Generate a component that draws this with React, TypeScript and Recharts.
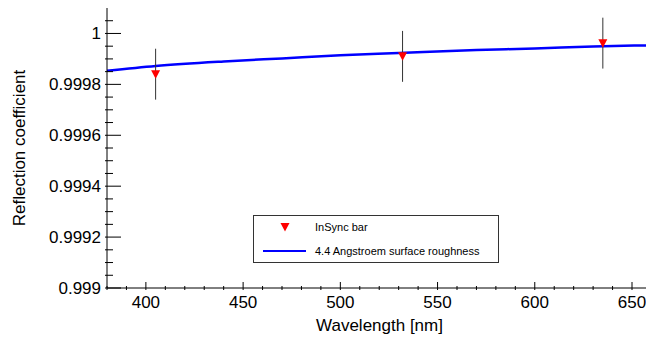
import { ComposedChart, Line, Scatter, ErrorBar, XAxis, YAxis } from 'recharts';

// measured points (laser wavelengths)
const pointWl = [405, 532, 635];
const pointR = [0.99984, 0.99991, 0.999962];
const pointErr = [0.0001, 0.0001, 0.0001];

// model curve: 4.4 Angstroem surface roughness
const curveWl = [380, 405, 440, 470, 500, 530, 570, 600, 630, 658];
const curveR = [0.999853, 0.999872, 0.99989, 0.999902, 0.999914, 0.999923, 0.999935, 0.999941, 0.999949, 0.999953];

const xMajor = [400, 450, 500, 550, 600, 650];
const xMinor = [380, 390, 410, 420, 430, 440, 460, 470, 480, 490, 510, 520, 530, 540, 560, 570, 580, 590, 610, 620, 630, 640];
const yMajor = [0.999, 0.9992, 0.9994, 0.9996, 0.9998, 1];
const yMajorLabels = ['0.999', '0.9992', '0.9994', '0.9996', '0.9998', '1'];
const yMinor = [0.99905, 0.9991, 0.99915, 0.99925, 0.9993, 0.99935, 0.99945, 0.9995, 0.99955, 0.99965, 0.9997, 0.99975, 0.99985, 0.9999, 0.99995, 1.00005];

const FONT = '"Liberation Sans", Arial, Helvetica, sans-serif';

const points = pointWl.map((wl, i) => ({ wl, r: pointR[i], err: pointErr[i] }));
const curve = curveWl.map((wl, i) => ({ wl, r: curveR[i] }));

const isMajor = (list: number[], v: number) => list.findIndex(m => Math.abs(m - v) < 1e-9);

const XTick = ({ x, y, payload }: any) => {
  const idx = isMajor(xMajor, payload.value);
  return (
    <g>
      <line x1={x} x2={x} y1={y} y2={y - (idx >= 0 ? 8 : 4)} stroke="#000" />
      {idx >= 0 && (
        <text x={x} y={y + 18} textAnchor="middle" fontSize={17} fontFamily={FONT} fill="#000">
          {xMajor[idx]}
        </text>
      )}
    </g>
  );
};

const YTick = ({ x, y, payload }: any) => {
  const idx = isMajor(yMajor, payload.value);
  return (
    <g>
      <line x1={x} x2={x + (idx >= 0 ? 16 : 8)} y1={y} y2={y} stroke="#000" />
      {idx >= 0 && (
        <text x={x - 4} y={y} dy="0.35em" textAnchor="end" fontSize={17} fontFamily={FONT} fill="#000">
          {yMajorLabels[idx]}
        </text>
      )}
    </g>
  );
};

const TriangleDown = ({ cx, cy }: any) => (
  <polygon points={`${cx - 4.5},${cy - 4} ${cx + 4.5},${cy - 4} ${cx},${cy + 4.5}`} fill="#ff0000" />
);

export default function App() {
  return (
    <div style={{ position: 'absolute', left: 0, top: 0, width: 646, height: 342, background: '#fff' }}>
      <ComposedChart width={646} height={342} margin={{ top: 8, right: 0, bottom: 0, left: 0 }}>
        <XAxis
          dataKey="wl"
          type="number"
          domain={[380, 657.2]}
          allowDataOverflow
          ticks={[...xMajor, ...xMinor].sort((a, b) => a - b)}
          interval={0}
          tickSize={0}
          tickLine={false}
          tick={<XTick />}
          height={54}
          axisLine={{ stroke: '#000' }}
          label={({ viewBox }: any) => (
            <text
              x={viewBox.x + viewBox.width / 2 + 3}
              y={viewBox.y + 43}
              textAnchor="middle"
              fontSize={17}
              fontFamily={FONT}
              fill="#000"
            >
              Wavelength [nm]
            </text>
          )}
        />
        <XAxis xAxisId="top" orientation="top" type="number" domain={[380, 657.2]} tick={false} tickLine={false} height={0} axisLine={{ stroke: '#444' }} />
        <YAxis
          dataKey="r"
          type="number"
          domain={[0.999, 1.0001]}
          allowDataOverflow
          ticks={[...yMajor, ...yMinor].sort((a, b) => a - b)}
          interval={0}
          tickSize={0}
          tickLine={false}
          tick={<YTick />}
          width={107}
          axisLine={{ stroke: '#000' }}
          label={({ viewBox }: any) => {
            const cy = viewBox.y + viewBox.height / 2;
            return (
              <text
                x={25}
                y={cy}
                transform={`rotate(-90, 25, ${cy})`}
                textAnchor="middle"
                fontSize={17}
                fontFamily={FONT}
                fill="#000"
              >
                Reflection coefficient
              </text>
            );
          }}
        />
        <Line
          data={curve}
          dataKey="r"
          type="monotone"
          stroke="#0000ff"
          strokeWidth={2.5}
          dot={false}
          activeDot={false}
          isAnimationActive={false}
        />
        <Scatter data={points} dataKey="r" shape={<TriangleDown />} isAnimationActive={false}>
          <ErrorBar dataKey="err" direction="y" width={0} stroke="#333" strokeWidth={1} />
        </Scatter>
      </ComposedChart>
      <div
        style={{
          position: 'absolute',
          left: 253,
          top: 215,
          width: 246,
          height: 48,
          border: '1px solid #333',
          boxSizing: 'border-box',
          background: '#fff',
          fontFamily: FONT,
          fontSize: 11,
        }}
      >
        <svg width={244} height={46} style={{ position: 'absolute', left: 0, top: 0 }}>
          <polygon points="26.5,7 35.5,7 31,15.5" fill="#ff0000" />
          <line x1={9} x2={52} y1={35} y2={35} stroke="#0000ff" strokeWidth={2} />
          <text x={61} y={11} dy="0.35em" fontSize={11} fontFamily={FONT} fill="#000">InSync bar</text>
          <text x={61} y={35} dy="0.35em" fontSize={11} fontFamily={FONT} fill="#000">4.4 Angstroem surface roughness</text>
        </svg>
      </div>
    </div>
  );
}
